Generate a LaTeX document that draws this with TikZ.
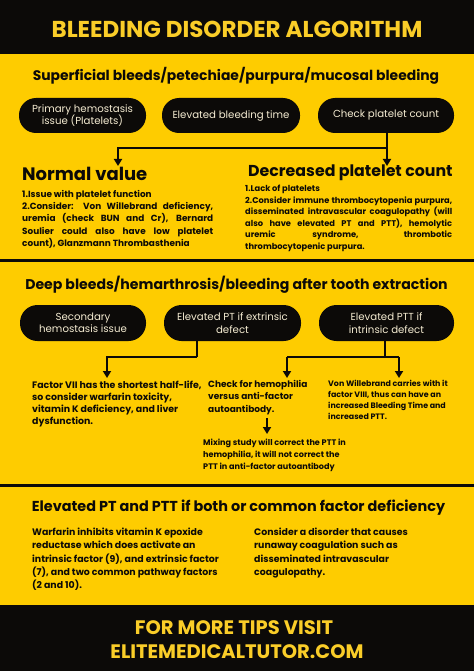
\documentclass[tikz,border=0pt]{standalone}
\usepackage{fontspec}
\setmainfont{Poppins}
\usetikzlibrary{arrows.meta}
\definecolor{yel}{RGB}{254,204,0}
\definecolor{ttl}{RGB}{250,205,40}
\definecolor{blk}{RGB}{12,10,8}
\definecolor{cream}{RGB}{245,236,210}
\begin{document}
\begin{tikzpicture}[x=1pt,y=-1pt,
  pill/.style={fill=blk, rounded corners=17pt, minimum height=35pt, inner sep=0pt, text=cream, font=\fontsize{10.2}{12.4}\selectfont, align=center},
  conn/.style={draw=blk, line width=2pt},
  arr/.style={conn, -{Triangle[width=8pt,length=7pt]}},
  head/.style={font=\bfseries\fontsize{13.9}{16}\selectfont, text=blk, inner sep=0pt},
  big/.style={font=\bfseries\fontsize{18}{20}\selectfont, text=blk, inner sep=0pt, anchor=west},
  body/.style={font=\bfseries\fontsize{8.9}{12.3}\selectfont, text=blk, inner sep=0pt, anchor=north west, align=left},
  bandtext/.style={font=\bfseries\fontsize{19.5}{22}\selectfont, text=ttl, inner sep=0pt},
  divider/.style={draw=blk, line width=3pt}
  ]
\useasboundingbox (0,0) rectangle (474,671);
\fill[yel] (0,0) rectangle (474,671);
\fill[blk] (0,0) rectangle (474,54);
\fill[blk] (0,605) rectangle (474,671);
\draw[divider] (0,260) -- (474,260);
\draw[divider] (0,485) -- (474,485);

\node[bandtext, font=\bfseries\fontsize{23}{26}\selectfont] (title) at (237,29) {BLEEDING DISORDER ALGORITHM};

% section 1
\node[head] (h1) at (236,76) {Superficial bleeds/petechiae/purpura/mucosal bleeding};
\node[pill, minimum width=127pt] (p1) at (82.5,115.5) {Primary hemostasis\\issue (Platelets)};
\node[pill, minimum width=138pt] (p2) at (231,115.5) {Elevated bleeding time};
\node[pill, minimum width=136pt] (p3) at (386,115.5) {Check platelet count};
\coordinate (j1) at (387,148);
\coordinate (j2) at (118,148);
\coordinate (a1) at (118,166);
\coordinate (a2) at (387,166);
\draw[arr] (p3.south -| j1) -- (a2);
\draw[arr] (j1) -- (j2) -- (a1);

\node[big] (nv) at (22,174) {Normal value};
\node[big, font=\bfseries\fontsize{15.8}{20}\selectfont] (dp) at (248,173) {Decreased platelet count};

\node[body, text width=191pt, align=justify] (t1) at (22,190) {1.Issue with platelet function\par 2.Consider: Von Willebrand deficiency,\linebreak uremia (check BUN and Cr), Bernard\linebreak Soulier could also have low platelet\linebreak count), Glanzmann Thrombasthenia};
\node[body, text width=207pt, align=justify, font=\bfseries\fontsize{8.3}{11.5}\selectfont] (t2) at (245,185) {1.Lack of platelets\par 2.Consider immune thrombocytopenia purpura,\linebreak disseminated intravascular coagulopathy (will\linebreak also have elevated PT and PTT), hemolytic\linebreak uremic syndrome, thrombotic\linebreak thrombocytopenic purpura.};

% section 2
\node[head, font=\bfseries\fontsize{14.1}{16}\selectfont] (h2) at (236.5,285) {Deep bleeds/hemarthrosis/bleeding after tooth extraction};
\node[pill, minimum width=126pt, minimum height=36pt, rounded corners=17.5pt] (q1) at (83,323) {Secondary\\hemostasis issue};
\node[pill, minimum width=137pt, minimum height=36pt, rounded corners=17.5pt] (q2) at (232.5,323) {Elevated PT if extrinsic\\defect};
\node[pill, minimum width=135pt, minimum height=36pt, rounded corners=17.5pt] (q3) at (386.5,323) {Elevated PTT if\\intrinsic defect};
\coordinate (k1) at (197,357);
\coordinate (b1) at (107,378);
\coordinate (k2) at (385,357);
\coordinate (k3) at (287,357);
\coordinate (k4) at (399,357);
\coordinate (b2) at (287,378);
\coordinate (b3) at (399,378);
\draw[conn] (q2.south -| k1) -- (k1);
\draw[arr] (k1) -- (k1 -| b1) -- (b1);
\draw[conn] (q3.south -| k2) -- (k2);
\draw[conn] (k3) -- (k4);
\draw[arr] (k3) -- (b2);
\draw[arr] (k4) -- (b3);

\node[body, font=\bfseries\fontsize{9.4}{12}\selectfont] (f7) at (32,381) {Factor VII has the shortest half-life,\\so consider warfarin toxicity,\\vitamin K deficiency, and liver\\dysfunction.};
\node[body, font=\bfseries\fontsize{9}{12.4}\selectfont] (hm) at (208,380) {Check for hemophilia\\versus anti-factor\\autoantibody.};
\node[body, font=\bfseries\fontsize{7.9}{11}\selectfont] (vw) at (328,380) {Von Willebrand carries with it\\factor VIII, thus can have an\\increased Bleeding Time and\\increased PTT.};
\coordinate (c1) at (267,418);
\coordinate (c2) at (267,434);
\draw[arr] (c1) -- (c2);
\node[body, font=\bfseries\fontsize{8.1}{12}\selectfont] (mx) at (203,438.5) {Mixing study will correct the PTT in\\hemophilia, it will not correct the\\PTT in anti-factor autoantibody};

% section 3
\node[head, font=\bfseries\fontsize{14.4}{17}\selectfont] (h3) at (238.5,508) {Elevated PT and PTT if both or common factor deficiency};
\node[body, font=\bfseries\fontsize{9.4}{13.2}\selectfont] (wf) at (32,528) {Warfarin inhibits vitamin K epoxide\\reductase which does activate an\\intrinsic factor (9), and extrinsic factor\\(7), and two common pathway factors\\(2 and 10).};
\node[body, font=\bfseries\fontsize{9.4}{13.2}\selectfont] (dic) at (254,528) {Consider a disorder that causes\\runaway coagulation such as\\disseminated intravascular\\coagulopathy.};

% footer
\node[bandtext] (f1) at (234,628) {FOR MORE TIPS VISIT};
\node[bandtext] (f2) at (237,652) {ELITEMEDICALTUTOR.COM};
\end{tikzpicture}
\end{document}
